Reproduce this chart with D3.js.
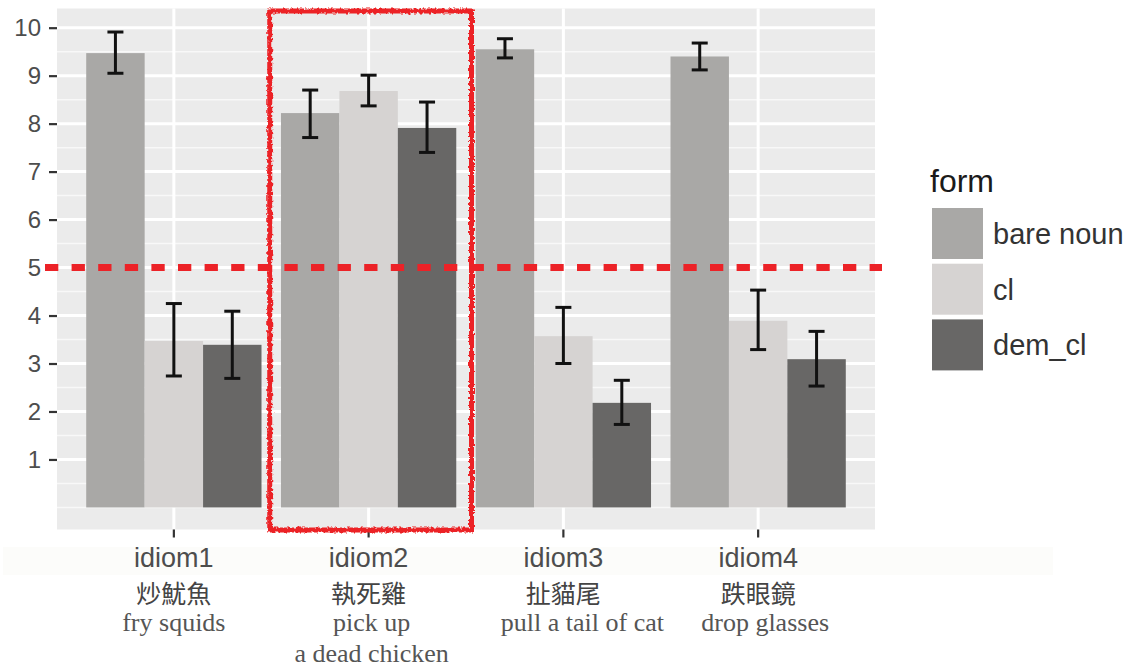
<!DOCTYPE html>
<meta charset="utf-8">
<script src="https://d3js.org/d3.v7.min.js"></script>
<style>
  body { margin: 0; background: #fff; }
  svg { display: block; }
</style>
<div id="my_dataviz"></div>
<script>
    // data
    const idioms = ["idiom1", "idiom2", "idiom3", "idiom4"]
    const chineseLabels = ["炒魷魚", "執死雞", "扯貓尾", "跌眼鏡"]
    const englishLabels = [["fry squids"], ["pick up", "a dead chicken"], ["pull a tail of cat"], ["drop glasses"]]
    const forms = ["bare noun", "cl", "dem_cl"]
    const bareNoun = [9.47, 8.22, 9.55, 9.40]
    const bareNounLow = [9.05, 7.71, 9.37, 9.12]
    const bareNounHigh = [9.91, 8.70, 9.77, 9.68]
    const cl = [3.47, 8.68, 3.57, 3.89]
    const clLow = [2.74, 8.37, 3.00, 3.29]
    const clHigh = [4.25, 9.01, 4.17, 4.53]
    const demCl = [3.39, 7.91, 2.18, 3.09]
    const demClLow = [2.69, 7.40, 1.73, 2.53]
    const demClHigh = [4.09, 8.45, 2.65, 3.67]
    const yTicks = [1, 2, 3, 4, 5, 6, 7, 8, 9, 10]
    const threshold = 5

    const values = [bareNoun, cl, demCl]
    const lows = [bareNounLow, clLow, demClLow]
    const highs = [bareNounHigh, clHigh, demClHigh]
    const colors = ["#a9a8a6", "#d6d3d2", "#686766"]
    // the english glosses sit a bit off-centre in the original
    const glossShift = [0, 3, 19, 7]

    // long table for the bars
    const data = []
    idioms.forEach((idiom, i) => {
        forms.forEach((form, j) => {
            data.push({idiom: idiom, form: form, value: values[j][i], low: lows[j][i], high: highs[j][i], color: colors[j]})
        })
    })

    const W = 1135, H = 668
    const panel = {left: 57, right: 875, top: 8.5, bottom: 529.5}

    const svg = d3.select("#my_dataviz")
        .append("svg")
        .attr("width", W)
        .attr("height", H)

    // wobbly marker filter for the hand drawn box
    const filt = svg.append("defs").append("filter")
        .attr("id", "wobble")
        .attr("x", "-5%").attr("y", "-5%").attr("width", "110%").attr("height", "110%")
    filt.append("feTurbulence")
        .attr("type", "fractalNoise")
        .attr("baseFrequency", 0.35)
        .attr("numOctaves", 2)
        .attr("seed", 3)
        .attr("result", "noise")
    filt.append("feDisplacementMap")
        .attr("in", "SourceGraphic")
        .attr("in2", "noise")
        .attr("scale", 4.5)

    // faint band behind the x labels (pasted screenshot)
    svg.append("rect")
        .attr("x", 3).attr("y", 547)
        .attr("width", 1050).attr("height", 28)
        .attr("fill", "#fcfcfa")

    const x = d3.scaleBand()
        .domain(idioms)
        .range([panel.left, panel.right])
        .paddingInner(0)
        .paddingOuter(0.1)

    const xSub = d3.scaleBand()
        .domain(forms)
        .range([0, x.bandwidth() * 0.9])

    const y = d3.scaleLinear()
        .domain([-0.46, 10.4])
        .range([panel.bottom, panel.top])

    // panel background
    svg.append("rect")
        .attr("x", panel.left).attr("y", panel.top)
        .attr("width", panel.right - panel.left)
        .attr("height", panel.bottom - panel.top)
        .attr("fill", "#ebebeb")

    // minor grid
    const minor = d3.range(0, 10, 1).map(d => d + 0.5).concat([0])
    svg.append("g").selectAll("line")
        .data(minor)
        .join("line")
        .attr("x1", panel.left).attr("x2", panel.right)
        .attr("y1", d => y(d)).attr("y2", d => y(d))
        .attr("stroke", "#f8f8f8")
        .attr("stroke-width", 1.5)

    // major grid
    svg.append("g").selectAll("line")
        .data(yTicks)
        .join("line")
        .attr("x1", panel.left).attr("x2", panel.right)
        .attr("y1", d => y(d)).attr("y2", d => y(d))
        .attr("stroke", "#fff")
        .attr("stroke-width", 3)
    svg.append("g").selectAll("line")
        .data(idioms)
        .join("line")
        .attr("x1", d => x(d) + x.bandwidth() / 2).attr("x2", d => x(d) + x.bandwidth() / 2)
        .attr("y1", panel.top).attr("y2", panel.bottom)
        .attr("stroke", "#fff")
        .attr("stroke-width", 3)

    const barLeft = d => x(d.idiom) + x.bandwidth() * 0.05 + xSub(d.form)

    // bars
    svg.append("g").selectAll("rect")
        .data(data)
        .join("rect")
        .attr("x", d => barLeft(d))
        .attr("y", d => y(d.value))
        .attr("width", xSub.bandwidth())
        .attr("height", d => y(0) - y(d.value))
        .attr("fill", d => d.color)

    // error bars
    const capW = 8
    const eb = svg.append("g")
        .attr("stroke", "#111")
        .attr("stroke-width", 3)
    eb.selectAll(".stem")
        .data(data)
        .join("line")
        .attr("x1", d => barLeft(d) + xSub.bandwidth() / 2)
        .attr("x2", d => barLeft(d) + xSub.bandwidth() / 2)
        .attr("y1", d => y(d.low)).attr("y2", d => y(d.high))
    eb.selectAll(".capTop")
        .data(data)
        .join("line")
        .attr("x1", d => barLeft(d) + xSub.bandwidth() / 2 - capW)
        .attr("x2", d => barLeft(d) + xSub.bandwidth() / 2 + capW)
        .attr("y1", d => y(d.high)).attr("y2", d => y(d.high))
    eb.selectAll(".capBottom")
        .data(data)
        .join("line")
        .attr("x1", d => barLeft(d) + xSub.bandwidth() / 2 - capW)
        .attr("x2", d => barLeft(d) + xSub.bandwidth() / 2 + capW)
        .attr("y1", d => y(d.low)).attr("y2", d => y(d.low))

    // y axis
    const yAxis = svg.append("g")
        .attr("transform", `translate(${panel.left},0)`)
        .call(d3.axisLeft(y).tickValues(yTicks).tickSize(8).tickPadding(8))
    yAxis.select(".domain").remove()
    yAxis.selectAll(".tick line").attr("stroke", "#333").attr("stroke-width", 2.2)
    yAxis.selectAll(".tick text")
        .attr("fill", "#4d4d4d")
        .style("font-family", "'Liberation Sans', Arial, sans-serif")
        .style("font-size", "24px")

    // x axis
    const xAxis = svg.append("g")
        .attr("transform", `translate(0,${panel.bottom})`)
        .call(d3.axisBottom(x).tickSize(8).tickPadding(0))
    xAxis.select(".domain").remove()
    xAxis.selectAll(".tick line").attr("stroke", "#333").attr("stroke-width", 2.2)
    xAxis.selectAll(".tick text")
        .attr("y", 37)
        .attr("dy", null)
        .attr("fill", "#4d4d4d")
        .style("font-family", "'Liberation Sans', Arial, sans-serif")
        .style("font-size", "27px")

    // chinese idiom + english gloss under each category
    svg.append("g").selectAll("text")
        .data(idioms)
        .join("text")
        .attr("x", d => x(d) + x.bandwidth() / 2)
        .attr("y", 603)
        .attr("text-anchor", "middle")
        .attr("fill", "#444")
        .style("font-family", "'Noto Sans CJK TC', sans-serif")
        .style("font-size", "25px")
        .text((d, i) => chineseLabels[i])

    const gloss = svg.append("g")
    idioms.forEach((d, i) => {
        englishLabels[i].forEach((line, k) => {
            gloss.append("text")
                .attr("x", x(d) + x.bandwidth() / 2 + glossShift[i])
                .attr("y", 631 + k * 31)
                .attr("text-anchor", "middle")
                .attr("fill", "#555")
                .style("font-family", "'Liberation Serif', 'Times New Roman', serif")
                .style("font-size", "26px")
                .text(line)
        })
    })

    // red dashed threshold
    svg.append("line")
        .attr("x1", 45).attr("x2", 882)
        .attr("y1", y(threshold)).attr("y2", y(threshold))
        .attr("stroke", "#ec2227")
        .attr("stroke-width", 7)
        .attr("stroke-dasharray", "13.3 13.3")

    // hand drawn highlight box around idiom2
    const hx = x("idiom2")
    svg.append("rect")
        .attr("x", hx - 1.5)
        .attr("y", 11)
        .attr("width", x.bandwidth() + 7)
        .attr("height", 519)
        .attr("fill", "none")
        .attr("stroke", "#ec2227")
        .attr("stroke-width", 5)
        .attr("filter", "url(#wobble)")

    // legend
    const legend = svg.append("g").attr("transform", "translate(932,0)")
    legend.append("text")
        .attr("x", -2).attr("y", 192)
        .attr("fill", "#1a1a1a")
        .style("font-family", "'Liberation Sans', Arial, sans-serif")
        .style("font-size", "32px")
        .text("form")
    legend.selectAll("rect")
        .data(forms)
        .join("rect")
        .attr("x", 0)
        .attr("y", (d, i) => 208 + i * 55.7)
        .attr("width", 51).attr("height", 51)
        .attr("fill", (d, i) => colors[i])
    legend.selectAll(".lab")
        .data(forms)
        .join("text")
        .attr("x", 61)
        .attr("y", (d, i) => 233.5 + i * 55.7)
        .attr("dy", "0.36em")
        .attr("fill", "#333")
        .style("font-family", "'Liberation Sans', Arial, sans-serif")
        .style("font-size", "29px")
        .text(d => d)
</script>
